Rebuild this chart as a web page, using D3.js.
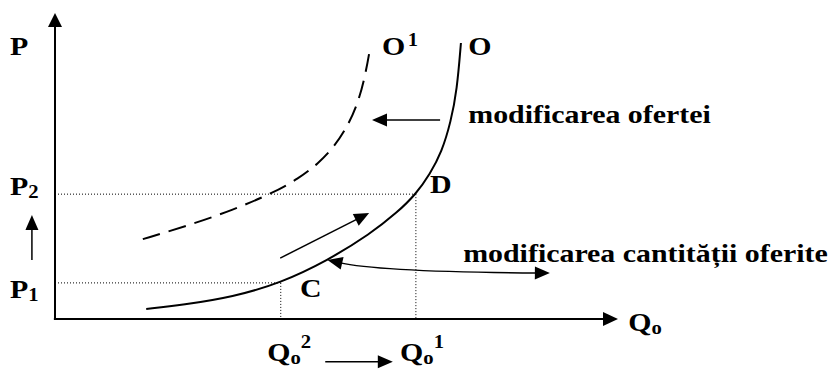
<!DOCTYPE html>
<html>
<head>
<meta charset="utf-8">
<script src="https://cdn.jsdelivr.net/npm/d3@7"></script>
<style>
  html, body { margin: 0; padding: 0; background: #fff; }
  svg { display: block; }
  text { font-family: "Liberation Serif", "Times New Roman", serif; font-weight: bold; fill: #000; }
</style>
</head>
<body>
<div id="chart"></div>
<script>
// supply curves, points (Q, P)
const supplyO  = [[1.62,0.33],[2.27,0.46],[3.16,0.72],[4.01,1.18],[4.83,1.90],[5.60,2.78],[6.09,3.50],[6.41,4.08],[6.66,4.74],[6.87,5.46],[7.03,6.44],[7.14,7.48],[7.21,9.02]];
const supplyO1 = [[1.56,2.61],[2.34,3.04],[3.16,3.56],[3.87,4.12],[4.32,4.58],[4.67,5.07],[4.97,5.65],[5.22,6.37],[5.40,7.16],[5.52,8.04],[5.60,8.89]];

// points C and D
const qLevels = [4.01, 6.41]; // Qo2, Qo1
const pLevels = [1.18, 4.08]; // P1, P2

// arrows: [from, to]
const arrows = [
  [[-0.41, 1.93], [-0.41, 3.40]],  // small arrow P1 -> P2
  [[4.00, 1.99], [5.58, 3.46]],    // movement along O
  [[6.84, 6.50], [5.63, 6.50]],    // shift O -> O1
  [[4.80, -1.40], [6.00, -1.40]]   // Qo2 -> Qo1
];
// curved pointer: tip on the curve, control, right end
const pointer = [[4.84, 1.93], [5.77, 1.54], [8.79, 1.50]];

// labels: position (Q, P) and parts
const labels = [
  { q: -0.80, p: 8.63, parts: [["P"]] },
  { q: -0.80, p: 4.05, parts: [["P"], ["2", "sub"]] },
  { q: -0.80, p: 0.69, parts: [["P"], ["1", "sub"]] },
  { q: 10.18, p: -0.39, parts: [["Q"], ["o", "sub"]] },
  { q: 3.77, p: -1.36, parts: [["Q"], ["o", "sub"], ["2", "sup"]] },
  { q: 6.13, p: -1.36, parts: [["Q"], ["o", "sub"], ["1", "sup"]] },
  { q: 5.81, p: 8.63, parts: [["O"], ["1", "sup1"]] },
  { q: 7.34, p: 8.63, parts: [["O"]] },
  { q: 6.66, p: 4.12, parts: [["D"]] },
  { q: 4.35, p: 0.72, parts: [["C"]] },
  { q: 7.34, p: 6.41, parts: [["modificarea ofertei"]] },
  { q: 7.25, p: 1.86, parts: [["modificarea cantității oferite"]] }
];

const W = 830, H = 371;
const svg = d3.select("#chart").append("svg")
  .attr("width", W).attr("height", H);

const x = d3.scaleLinear().domain([0, 10]).range([55, 618]);
const y = d3.scaleLinear().domain([0, 10]).range([319, 13]);

// draws a straight arrow with a filled head
function arrow(g, a, b, len, half, width) {
  const x0 = x(a[0]), y0 = y(a[1]), x1 = x(b[0]), y1 = y(b[1]);
  const d = Math.hypot(x1 - x0, y1 - y0), ux = (x1 - x0) / d, uy = (y1 - y0) / d;
  const bx = x1 - ux * len, by = y1 - uy * len;
  g.append("line")
    .attr("x1", x0).attr("y1", y0).attr("x2", bx + ux).attr("y2", by + uy)
    .attr("stroke", "#000").attr("stroke-width", width);
  head(g, x1, y1, ux, uy, len, half);
}
function head(g, tx, ty, ux, uy, len, half) {
  const bx = tx - ux * len, by = ty - uy * len;
  g.append("path")
    .attr("d", `M${tx},${ty}L${bx - uy * half},${by + ux * half}L${bx + uy * half},${by - ux * half}Z`)
    .attr("fill", "#000");
}

// dotted guide lines
const guides = svg.append("g")
  .attr("stroke", "#000").attr("stroke-width", 1).attr("stroke-dasharray", "1,2");
qLevels.forEach((q, i) => {
  guides.append("line").attr("x1", x(0)).attr("x2", x(q)).attr("y1", y(pLevels[i])).attr("y2", y(pLevels[i]));
  guides.append("line").attr("x1", x(q)).attr("x2", x(q)).attr("y1", y(pLevels[i])).attr("y2", y(0));
});

// axes
const axes = svg.append("g");
arrow(axes, [0, 0], [0, 10], 14, 7, 2);
arrow(axes, [-0.02, 0], [10, 0], 15, 7, 2);

// curves
const line = d3.line().x(d => x(d[0])).y(d => y(d[1])).curve(d3.curveBasis);
svg.append("path").datum(supplyO)
  .attr("d", line).attr("fill", "none").attr("stroke", "#000").attr("stroke-width", 2);
svg.append("path").datum(supplyO1)
  .attr("d", line).attr("fill", "none").attr("stroke", "#000").attr("stroke-width", 2)
  .attr("stroke-dasharray", "18,9");

// arrows
const ann = svg.append("g");
arrows.forEach(a => arrow(ann, a[0], a[1], 15, 6.5, 1.5));

// curved pointer with two heads
{
  const [t, c, e] = pointer.map(p => [x(p[0]), y(p[1])]);
  let d = Math.hypot(c[0] - t[0], c[1] - t[1]);
  const u1 = [(t[0] - c[0]) / d, (t[1] - c[1]) / d];
  d = Math.hypot(e[0] - c[0], e[1] - c[1]);
  const u2 = [(e[0] - c[0]) / d, (e[1] - c[1]) / d];
  const p = d3.path();
  p.moveTo(t[0] - u1[0] * 12, t[1] - u1[1] * 12);
  p.quadraticCurveTo(c[0], c[1], e[0] - u2[0] * 12, e[1] - u2[1] * 12);
  ann.append("path").attr("d", p.toString())
    .attr("fill", "none").attr("stroke", "#000").attr("stroke-width", 1.5);
  head(ann, t[0], t[1], u1[0], u1[1], 15, 6.5);
  head(ann, e[0], e[1], u2[0], u2[1], 15, 6.5);
}

// labels
const txt = svg.append("g");
labels.forEach(l => {
  const t = txt.append("text")
    .attr("transform", `translate(${x(l.q)},${y(l.p)}) scale(1.15,1)`)
    .style("font-size", "26px");
  let shift = 0;
  l.parts.forEach(([s, kind]) => {
    const ts = t.append("tspan").text(s);
    let target = 0;
    if (kind === "sub") { ts.style("font-size", "18px"); target = 3; }
    if (kind === "sup") { ts.style("font-size", "18px"); target = -13; }
    if (kind === "sup1") { ts.style("font-size", "18px"); target = -9; ts.attr("dx", 2); }
    ts.attr("dy", target - shift);
    shift = target;
  });
});
</script>
</body>
</html>
